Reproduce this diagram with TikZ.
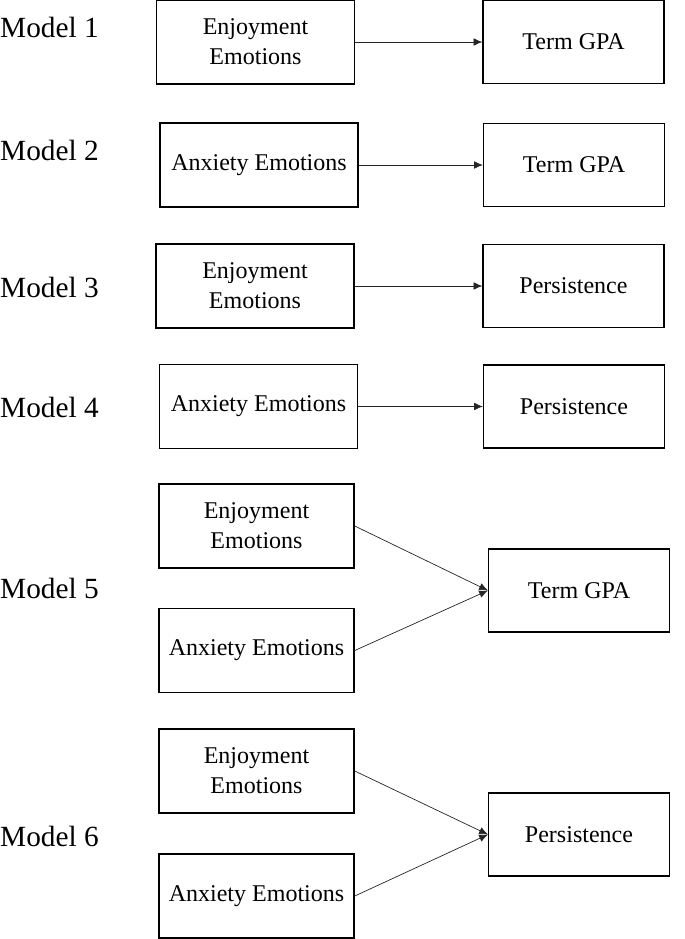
\documentclass[tikz,border=0pt]{standalone}
\usepackage{fontspec}
\setmainfont{Liberation Serif}
\usetikzlibrary{arrows.meta}
\tikzset{
  box/.style={draw,line width=1.3pt,inner sep=0pt,align=center,
    font=\fontsize{20.5}{25.5}\selectfont},
  lbox/.style={box,minimum width=5.95cm,minimum height=2.52cm},
  rbox/.style={box,minimum width=5.42cm,minimum height=2.5cm},
  model/.style={anchor=west,inner sep=0pt,font=\fontsize{25}{30}\selectfont},
  path/.style={draw=black!85,line width=0.6pt,-{Latex[length=7.5pt,width=6.5pt]}}
}
\begin{document}
\begin{tikzpicture}[x=0.03cm,y=-0.03cm]
\useasboundingbox (0,0) rectangle (685,939);
% Model 1
\node[model] (m1) at (0,27) {Model 1};
\node[lbox] (e1) at (255.5,42) {Enjoyment\\Emotions};
\node[rbox] (t1) at (573.5,42) {Term GPA};
\draw[path] (e1) -- (t1);
% Model 2
\node[model] (m2) at (0,150) {Model 2};
\node[lbox] (a2) at (259,165) {Anxiety Emotions};
\node[rbox] (t2) at (574,165) {Term GPA};
\draw[path] (a2) -- (t2);
% Model 3
\node[model] (m3) at (0,287) {Model 3};
\node[lbox] (e3) at (255,286) {Enjoyment\\Emotions};
\node[rbox] (p3) at (573.5,286) {Persistence};
\draw[path] (e3) -- (p3);
% Model 4
\node[model] (m4) at (0,407) {Model 4};
\node[lbox] (a4) at (258.5,406.5) {Anxiety Emotions};
\node[rbox] (p4) at (574,406.5) {Persistence};
\draw[path] (a4) -- (p4);
% Model 5
\node[model] (m5) at (0,588) {Model 5};
\node[lbox,minimum width=5.85cm] (e5) at (256.5,526) {Enjoyment\\Emotions};
\node[lbox,minimum width=5.85cm] (a5) at (256.5,650.5) {Anxiety Emotions};
\node[rbox] (t5) at (579,590.5) {Term GPA};
\draw[path] (e5.east) -- (t5.west);
\draw[path] (a5.east) -- (t5.west);
% Model 6
\node[model] (m6) at (0,836) {Model 6};
\node[lbox,minimum width=5.85cm] (e6) at (256.5,771) {Enjoyment\\Emotions};
\node[lbox,minimum width=5.85cm] (a6) at (256.5,896) {Anxiety Emotions};
\node[rbox] (p6) at (579,834.5) {Persistence};
\draw[path] (e6.east) -- (p6.west);
\draw[path] (a6.east) -- (p6.west);
\end{tikzpicture}
\end{document}
